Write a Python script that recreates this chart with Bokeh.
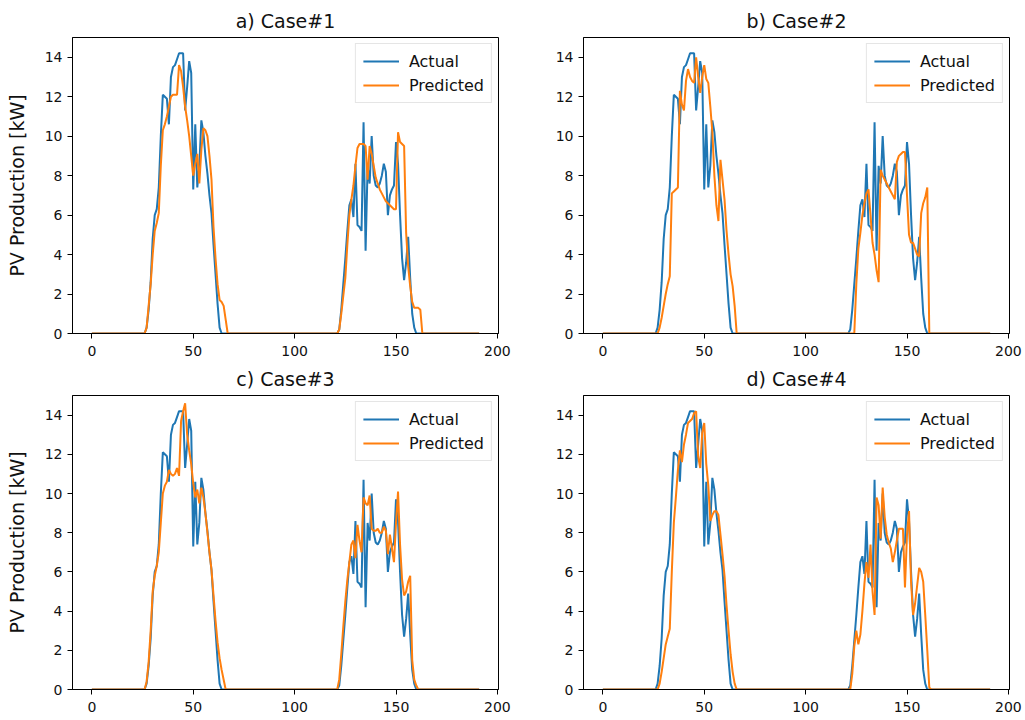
from bokeh.plotting import figure
from bokeh.layouts import gridplot
from bokeh.models import Range1d, FixedTicker, Legend, LegendItem
from bokeh.embed import file_html
from bokeh.resources import INLINE

# ---------------- data ----------------
n_points = 192
day1_start = 26   # first index of the day-1 segment
day2_start = 121  # first index of the day-2 segment

actual_day1 = [0, 0.3, 1.2, 2.6, 4.8, 6.0, 6.3, 7.4, 10.0, 12.1, 12.0, 11.9, 10.6, 13.0,
               13.5, 13.6, 13.9, 14.2, 14.2, 14.2, 11.3, 12.5, 13.8, 13.2, 7.3, 10.6, 7.4,
               8.5, 10.8, 10.2, 9.0, 8.1, 7.0, 6.1, 4.5, 3.0, 1.5, 0.3, 0, 0, 0, 0]
actual_day2 = [0, 0.2, 1.2, 2.5, 3.8, 5.2, 6.5, 6.8, 5.9, 8.6, 5.5, 5.4, 5.2, 10.7, 4.2,
               8.5, 7.6, 10.0, 8.0, 7.5, 7.4, 7.6, 8.0, 8.6, 8.2, 6.0, 7.0, 7.3, 7.5, 9.7,
               8.6, 6.0, 3.8, 2.7, 3.6, 4.9, 2.8, 1.0, 0.3, 0, 0, 0, 0]

pred1_day1 = [0, 0.3, 1.4, 2.5, 4.0, 5.2, 5.6, 6.1, 8.5, 10.3, 10.6, 11.0, 11.5, 12.0,
              12.1, 12.1, 12.1, 13.6, 13.3, 12.5, 11.5, 10.8, 10.0, 9.0, 8.0, 8.6, 9.1,
              7.6, 9.3, 10.4, 10.3, 10.0, 9.0, 7.8, 5.4, 3.8, 2.5, 1.7, 1.6, 1.4, 0.7, 0]
pred1_day2 = [0, 0.2, 1.0, 1.9, 2.8, 4.5, 6.0, 6.8, 7.5, 8.5, 9.4, 9.6, 9.6, 9.6, 9.5,
              7.8, 9.5, 9.1, 8.5, 7.9, 7.6, 7.3, 7.1, 6.9, 6.7, 6.6, 6.5, 6.4, 6.3, 6.3,
              10.2, 9.7, 9.6, 9.5, 5.1, 3.4, 2.4, 1.6, 1.3, 1.3, 1.3, 1.2, 0]

pred2_day1 = [0, 0, 0.3, 0.8, 1.4, 2.0, 2.5, 2.9, 7.1, 7.2, 7.3, 7.4, 12.3, 11.6, 11.3,
              12.8, 13.4, 13.0, 12.8, 12.7, 14.0, 13.0, 12.2, 13.0, 13.6, 12.9, 12.7,
              11.5, 10.2, 8.0, 6.5, 5.7, 8.8, 7.8, 6.8, 5.2, 4.0, 3.0, 2.4, 1.4, 0, 0]
pred2_day2 = [0, 0, 0, 0, 2.5, 4.3, 5.1, 6.0, 6.6, 7.1, 7.3, 6.0, 4.6, 4.0, 3.2, 2.6,
              8.3, 8.0, 7.8, 7.6, 7.4, 7.2, 7.0, 6.8, 8.7, 9.0, 9.1, 9.2, 9.2, 7.0, 5.0,
              4.6, 4.6, 4.3, 4.0, 3.9, 6.1, 6.6, 6.9, 7.4, 0, 0, 0]

pred3_day1 = [0, 0.4, 1.4, 3.0, 5.0, 5.8, 6.3, 7.0, 8.5, 10.0, 10.4, 10.6, 11.2, 11.0,
              10.9, 11.0, 11.3, 10.9, 13.7, 14.2, 14.6, 13.0, 12.2, 11.5, 10.5, 9.8,
              10.2, 9.5, 10.3, 9.8, 9.0, 8.0, 7.0, 6.1, 4.8, 3.5, 2.4, 1.6, 1.0, 0.5, 0, 0]
pred3_day2 = [0, 0.5, 1.8, 3.2, 4.5, 5.6, 6.5, 7.4, 7.6, 6.7, 8.4, 7.6, 7.0, 9.8, 9.5,
              9.4, 9.9, 8.2, 8.1, 8.1, 8.2, 8.0, 8.0, 8.3, 8.1, 6.9, 7.9, 7.2, 6.5, 8.5,
              10.1, 7.4, 5.6, 4.8, 5.0, 5.5, 5.8, 1.5, 0.5, 0.2, 0, 0, 0]

pred4_day1 = [0, 0, 0.3, 0.9, 1.6, 2.3, 2.7, 3.1, 6.0, 8.5, 9.8, 11.2, 12.2, 11.6, 12.5,
              13.0, 13.6, 13.7, 13.8, 14.1, 14.2, 11.9, 11.3, 13.1, 13.6, 11.5, 10.4,
              8.6, 8.9, 9.1, 9.1, 8.9, 7.9, 6.9, 5.8, 4.3, 3.0, 1.8, 0.9, 0.3, 0, 0]
pred4_day2 = [0, 0, 0.8, 2.2, 3.0, 2.3, 2.8, 4.0, 5.4, 6.5, 5.7, 7.4, 5.0, 3.8, 9.8,
              9.4, 7.7, 10.3, 8.8, 7.9, 7.5, 7.2, 6.5, 7.0, 7.6, 8.2, 8.2, 8.2, 5.2, 7.9,
              9.1, 5.5, 3.8, 4.4, 5.3, 6.2, 6.0, 5.5, 3.8, 2.0, 0.1, 0, 0]

titles = ["a) Case#1", "b) Case#2", "c) Case#3", "d) Case#4"]
legend_labels = ["Actual", "Predicted"]
y_label = "PV Production [kW]"
x_ticks = [0, 50, 100, 150, 200]
y_ticks = [0, 2, 4, 6, 8, 10, 12, 14]

FONT = "DejaVu Sans"
BLUE = "#1f77b4"
ORANGE = "#ff7f0e"


def build_series(seg1, seg2):
    ys = [0.0] * n_points
    for i, v in enumerate(seg1):
        ys[day1_start + i] = v
    for i, v in enumerate(seg2):
        ys[day2_start + i] = v
    return ys


x_vals = list(range(n_points))
actual = build_series(actual_day1, actual_day2)
preds = [
    build_series(pred1_day1, pred1_day2),
    build_series(pred2_day1, pred2_day2),
    build_series(pred3_day1, pred3_day2),
    build_series(pred4_day1, pred4_day2),
]


def make_panel(idx):
    left = idx % 2 == 0
    top = idx < 2
    p = figure(
        width=512 if left else 513,
        height=360,
        x_range=Range1d(-9.55, 200.55),
        y_range=Range1d(0, 15),
        output_backend="svg",
        toolbar_location=None,
        min_border_left=72 if left else 71,
        min_border_right=14 if left else 16,
        min_border_top=37 if top else 33,
        min_border_bottom=27 if top else 31,
    )
    p.title.text = titles[idx]
    p.title.align = "center"
    p.title.text_font = FONT
    p.title.text_font_size = "19px"
    p.title.text_font_style = "normal"
    p.title.text_color = "#111111"
    p.title.standoff = 11

    r1 = p.line(x_vals, actual, line_color=BLUE, line_width=2)
    r2 = p.line(x_vals, preds[idx], line_color=ORANGE, line_width=2)

    legend = Legend(
        items=[LegendItem(label=legend_labels[0], renderers=[r1]),
               LegendItem(label=legend_labels[1], renderers=[r2])],
        location="top_right",
        label_text_font=FONT,
        label_text_font_size="16px",
        label_text_color="#111111",
        glyph_width=36,
        glyph_height=20,
        label_height=20,
        label_standoff=10,
        spacing=4,
        padding=7,
        margin=6,
        border_line_color="#cccccc",
        border_line_width=1,
        background_fill_color="white",
        background_fill_alpha=0.8,
    )
    p.add_layout(legend)

    p.xgrid.visible = False
    p.ygrid.visible = False
    p.outline_line_color = "black"
    p.outline_line_width = 1
    p.outline_line_alpha = 1

    p.xaxis.ticker = FixedTicker(ticks=x_ticks)
    p.yaxis.ticker = FixedTicker(ticks=y_ticks)
    for ax in (p.xaxis[0], p.yaxis[0]):
        ax.major_tick_out = 5
        ax.major_tick_in = 0
        ax.minor_tick_out = 0
        ax.minor_tick_in = 0
        ax.axis_line_color = "black"
        ax.major_tick_line_color = "black"
        ax.major_label_text_font = FONT
        ax.major_label_text_font_size = "14px"
        ax.major_label_text_color = "#111111"
        ax.major_label_standoff = 5
    p.xaxis[0].major_label_standoff = 7
    if left:
        p.yaxis.axis_label = y_label
        p.yaxis.axis_label_text_font = FONT
        p.yaxis.axis_label_text_font_size = "19px"
        p.yaxis.axis_label_text_font_style = "normal"
        p.yaxis.axis_label_text_color = "#111111"
        p.yaxis.axis_label_standoff = 14
    return p


panels = [make_panel(i) for i in range(4)]
layout = gridplot([[panels[0], panels[1]], [panels[2], panels[3]]], toolbar_location=None)

open("out.html", "w").write(file_html(layout, INLINE))
